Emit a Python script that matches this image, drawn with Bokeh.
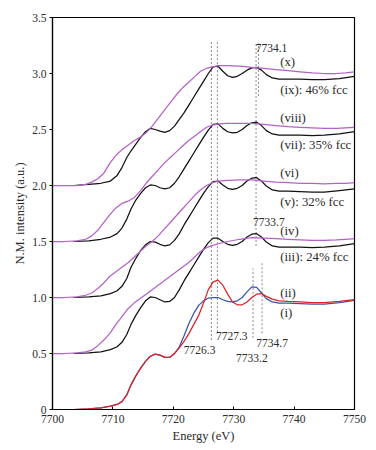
from bokeh.plotting import figure
from bokeh.models import Range1d, FixedTicker
from bokeh.core.properties import value
from bokeh.embed import file_html
from bokeh.resources import INLINE

# ---------------- data ----------------
# energy grid for black / red / blue spectra (eV)
E_K = [7703.5, 7706, 7708, 7709.6, 7710.7, 7711.5, 7712.3, 7713, 7713.8, 7714.6,
       7715.4, 7716.2, 7717, 7717.8, 7718.6, 7719.4, 7720.2, 7721, 7721.8, 7722.6,
       7723.4, 7724.2, 7725, 7725.8, 7726.6, 7727.4, 7728.2, 7729, 7729.8, 7730.6,
       7731.4, 7732.2, 7733, 7733.8, 7734.6, 7735.4, 7736.4, 7737.5, 7739, 7741,
       7743, 7745, 7747.5, 7750]

# energy grid for purple spectra (eV)
E_P = [7700, 7702, 7704, 7705.5, 7706.5, 7707.5, 7708.5, 7709.5, 7710.5, 7711.5,
       7712.5, 7713.5, 7714.5, 7715.5, 7716.5, 7717.5, 7718.5, 7719.5, 7720.5, 7721.5,
       7722.5, 7723.5, 7724.5, 7725.5, 7726.5, 7727.5, 7729, 7731, 7733, 7735,
       7737, 7739, 7741, 7743, 7745, 7747, 7748.5, 7750]

# vertical offsets of each pair
OFFSET_I_II = 0.0
OFFSET_III_IV = 0.5
OFFSET_V_VI = 1.0
OFFSET_VII_VIII = 1.5
OFFSET_IX_X = 2.0

# (i) blue, (ii) red  (normalised intensity, before offset)
I_BLUE = [0.0, 0.005, 0.015, 0.03, 0.045, 0.07, 0.13, 0.22, 0.30, 0.37,
          0.43, 0.475, 0.495, 0.485, 0.465, 0.465, 0.50, 0.56, 0.66, 0.77,
          0.86, 0.93, 0.97, 0.995, 1.0, 1.0, 0.98, 0.965, 0.96, 0.97,
          1.0, 1.05, 1.095, 1.09, 1.04, 0.99, 0.96, 0.95, 0.95, 0.945,
          0.94, 0.94, 0.955, 0.975]
II_RED = [0.0, 0.005, 0.015, 0.03, 0.045, 0.07, 0.13, 0.22, 0.30, 0.37,
          0.43, 0.475, 0.495, 0.485, 0.465, 0.465, 0.50, 0.55, 0.61, 0.68,
          0.76, 0.84, 0.95, 1.07, 1.14, 1.155, 1.11, 1.03, 0.96, 0.935,
          0.935, 0.96, 1.0, 1.03, 1.035, 1.01, 0.985, 0.97, 0.965, 0.96,
          0.955, 0.955, 0.965, 0.98]

# black spectra (iii), (v), (vii), (ix)
III_BLACK = [0.0, 0.005, 0.015, 0.035, 0.06, 0.1, 0.17, 0.26, 0.34, 0.41,
             0.47, 0.505, 0.50, 0.48, 0.46, 0.465, 0.50, 0.57, 0.65, 0.72,
             0.79, 0.86, 0.93, 0.99, 1.03, 1.03, 1.0, 0.975, 0.965, 0.975,
             1.0, 1.04, 1.065, 1.07, 1.04, 0.995, 0.96, 0.95, 0.95, 0.95,
             0.945, 0.95, 0.96, 0.98]
V_BLACK = [0.0, 0.005, 0.015, 0.035, 0.06, 0.1, 0.17, 0.27, 0.35, 0.42,
           0.47, 0.50, 0.495, 0.475, 0.46, 0.47, 0.51, 0.57, 0.65, 0.72,
           0.79, 0.86, 0.93, 0.99, 1.035, 1.04, 1.005, 0.975, 0.965, 0.975,
           1.0, 1.04, 1.065, 1.07, 1.04, 0.995, 0.96, 0.95, 0.95, 0.945,
           0.94, 0.94, 0.955, 0.97]
VII_BLACK = [0.0, 0.005, 0.02, 0.04, 0.07, 0.12, 0.2, 0.29, 0.37, 0.43,
             0.48, 0.505, 0.50, 0.48, 0.47, 0.48, 0.52, 0.58, 0.65, 0.72,
             0.79, 0.86, 0.93, 0.995, 1.045, 1.05, 1.01, 0.98, 0.97, 0.975,
             1.0, 1.035, 1.06, 1.065, 1.035, 0.99, 0.96, 0.95, 0.95, 0.95,
             0.945, 0.95, 0.96, 0.98]
IX_BLACK = [0.0, 0.01, 0.02, 0.04, 0.09, 0.16, 0.25, 0.31, 0.37, 0.43,
            0.48, 0.51, 0.50, 0.485, 0.475, 0.49, 0.53, 0.59, 0.65, 0.72,
            0.79, 0.86, 0.93, 1.0, 1.06, 1.065, 1.02, 0.98, 0.965, 0.975,
            1.0, 1.03, 1.05, 1.055, 1.03, 0.99, 0.96, 0.95, 0.95, 0.95,
            0.945, 0.945, 0.955, 0.975]

# purple spectra (iv), (vi), (viii), (x)
IV_PURPLE = [0, 0, 0.005, 0.015, 0.03, 0.07, 0.12, 0.18, 0.26, 0.33,
             0.40, 0.45, 0.49, 0.53, 0.57, 0.61, 0.65, 0.69, 0.73, 0.77,
             0.81, 0.86, 0.91, 0.945, 0.965, 0.98, 1.0, 1.02, 1.035, 1.03,
             1.025, 1.02, 1.015, 1.01, 1.01, 1.015, 1.02, 1.025]
VI_PURPLE = [0, 0, 0.005, 0.02, 0.04, 0.08, 0.13, 0.19, 0.23, 0.27,
             0.31, 0.36, 0.41, 0.46, 0.50, 0.55, 0.61, 0.67, 0.73, 0.79,
             0.85, 0.91, 0.96, 1.0, 1.025, 1.04, 1.045, 1.05, 1.05, 1.04,
             1.03, 1.025, 1.02, 1.02, 1.015, 1.02, 1.02, 1.025]
VIII_PURPLE = [0, 0, 0.005, 0.02, 0.05, 0.10, 0.17, 0.24, 0.30, 0.34,
               0.36, 0.39, 0.45, 0.52, 0.58, 0.64, 0.70, 0.75, 0.80, 0.85,
               0.90, 0.94, 0.98, 1.02, 1.04, 1.05, 1.055, 1.055, 1.055, 1.045,
               1.035, 1.025, 1.02, 1.015, 1.01, 1.01, 1.015, 1.02]
X_PURPLE = [0, 0, 0.0, 0.01, 0.03, 0.06, 0.11, 0.2, 0.27, 0.32,
            0.36, 0.40, 0.43, 0.47, 0.53, 0.60, 0.67, 0.74, 0.81, 0.87,
            0.92, 0.97, 1.02, 1.045, 1.06, 1.07, 1.07, 1.065, 1.055, 1.045,
            1.035, 1.025, 1.015, 1.005, 1.0, 1.0, 1.005, 1.015]

# dashed marker lines: energy, lower and upper intensity
VLINE_E = [7726.3, 7727.3, 7733.7, 7734.1, 7733.2, 7734.7]
VLINE_Y0 = [0.62, 0.69, 1.46, 2.80, 0.64, 0.68]
VLINE_Y1 = [3.30, 3.30, 3.27, 3.27, 1.26, 1.31]

# marker labels
MARK_TEXT = ["7734.1", "7733.7", "7726.3", "7727.3", "7733.2", "7734.7"]
MARK_E = [7733.65, 7733.2, 7721.75, 7727.05, 7730.4, 7733.75]
MARK_Y = [3.23, 1.67, 0.527, 0.652, 0.464, 0.598]

# curve labels
CURVE_TEXT = ["(x)", "(ix): 46% fcc", "(viii)", "(vii): 35% fcc", "(vi)",
              "(v): 32% fcc", "(iv)", "(iii): 24% fcc", "(ii)", "(i)"]
CURVE_E = [7737.7] * 10
CURVE_Y = [3.10, 2.85, 2.60, 2.36, 2.11, 1.85, 1.59, 1.36, 1.04, 0.86]

X_TICKS = [7700, 7710, 7720, 7730, 7740, 7750]
Y_TICKS = [0, 0.5, 1.0, 1.5, 2.0, 2.5, 3.0, 3.5]
Y_TICK_LABELS = ["0", "0.5", "1.0", "1.5", "2.0", "2.5", "3.0", "3.5"]

# ---------------- styles ----------------
PURPLE = "#b462c8"
BLACK = "#111111"
RED = "#dc2428"
BLUE = "#3556aa"
GRAY = "#8a8a8a"
FONT = "Liberation Serif"
TXT = "#2a2a2a"

p = figure(width=376, height=450, output_backend="svg", toolbar_location=None,
           x_range=Range1d(7700, 7750), y_range=Range1d(0, 3.5),
           min_border_left=52, min_border_right=22, min_border_top=17,
           min_border_bottom=41)
p.xgrid.visible = False
p.ygrid.visible = False
p.outline_line_color = "black"
p.outline_line_width = 1.2
p.background_fill_color = "white"
p.border_fill_color = "white"

# axes
p.xaxis.ticker = FixedTicker(ticks=X_TICKS)
p.yaxis.ticker = FixedTicker(ticks=Y_TICKS)
p.yaxis.major_label_overrides = {float(t): s for t, s in zip(Y_TICKS, Y_TICK_LABELS)}
for ax in (p.xaxis[0], p.yaxis[0]):
    ax.axis_line_color = "black"
    ax.axis_line_width = 1.2
    ax.major_tick_line_color = "black"
    ax.minor_tick_line_color = None
    ax.major_label_text_font = FONT
    ax.major_label_text_font_size = "11.5px"
    ax.major_label_text_color = TXT
    ax.axis_label_text_font = FONT
    ax.axis_label_text_font_size = "12.5px"
    ax.axis_label_text_font_style = "normal"
    ax.axis_label_text_color = TXT
p.xaxis.major_tick_in = 3
p.xaxis.major_tick_out = 0
p.xaxis.major_label_standoff = 5
p.xaxis.axis_label = "Energy (eV)"
p.xaxis.axis_label_standoff = 3
p.yaxis.major_tick_in = 0
p.yaxis.major_tick_out = 3
p.yaxis.major_label_standoff = 3
p.yaxis.axis_label = "N.M. intensity (a.u.)"
p.yaxis.axis_label_standoff = 2

# dashed marker lines
p.segment(x0=VLINE_E, y0=VLINE_Y0, x1=VLINE_E, y1=VLINE_Y1,
          line_color=GRAY, line_width=1, line_dash="2 2")

def shifted(vals, off):
    return [v + off for v in vals]

LW = 1.25
for vals, off in [(III_BLACK, OFFSET_III_IV), (V_BLACK, OFFSET_V_VI),
                  (VII_BLACK, OFFSET_VII_VIII), (IX_BLACK, OFFSET_IX_X)]:
    p.line(E_K, shifted(vals, off), line_color=BLACK, line_width=LW)
for vals, off in [(IV_PURPLE, OFFSET_III_IV), (VI_PURPLE, OFFSET_V_VI),
                  (VIII_PURPLE, OFFSET_VII_VIII), (X_PURPLE, OFFSET_IX_X)]:
    p.line(E_P, shifted(vals, off), line_color=PURPLE, line_width=LW)
p.line(E_K, shifted(I_BLUE, OFFSET_I_II), line_color=BLUE, line_width=LW)
p.line(E_K, shifted(II_RED, OFFSET_I_II), line_color=RED, line_width=LW)

# labels
p.text(x=MARK_E, y=MARK_Y, text=MARK_TEXT, text_font=value(FONT),
       text_font_size="11.5px", text_color=TXT, text_baseline="middle",
       text_align="left")
p.text(x=CURVE_E, y=CURVE_Y, text=CURVE_TEXT, text_font=value(FONT),
       text_font_size="12.8px", text_color=TXT, text_baseline="middle",
       text_align="left")

open("out.html", "w").write(file_html(p, INLINE))
